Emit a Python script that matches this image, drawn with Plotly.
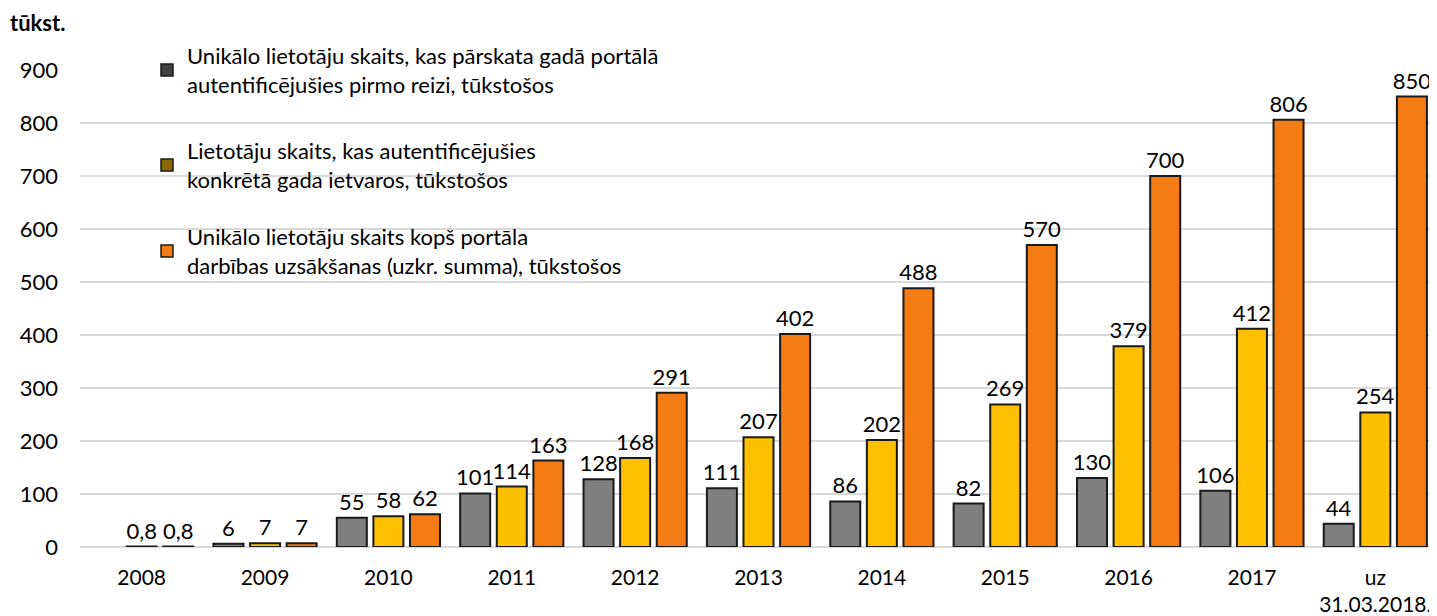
import plotly.graph_objects as go

categories = ["2008", "2009", "2010", "2011", "2012", "2013", "2014", "2015", "2016", "2017", "uz<br>31.03.2018."]
first_time = [None, 6, 55, 101, 128, 111, 86, 82, 130, 106, 44]
in_year = [0.8, 7, 58, 114, 168, 207, 202, 269, 379, 412, 254]
cumulative = [0.8, 7, 62, 163, 291, 402, 488, 570, 700, 806, 850]
y_ticks = [0, 100, 200, 300, 400, 500, 600, 700, 800, 900]

names = [
    "Unikālo lietotāju skaits, kas pārskata gadā portālā<br>autentificējušies pirmo reizi, tūkstošos",
    "Lietotāju skaits, kas autentificējušies<br>konkrētā gada ietvaros, tūkstošos",
    "Unikālo lietotāju skaits kopš portāla<br>darbības uzsākšanas (uzkr. summa), tūkstošos",
]
colors = ["#7f7f7f", "#ffc000", "#f57c14"]
legend_colors = ["#404040", "#8a6a00", "#f57c14"]


def fmt(v):
    if v is None:
        return ""
    s = f"{v:g}"
    return s.replace(".", ",")


FONT = "Lato"
FS = 22
OFF = 8  # page body margin offset
W, H = 1437 - OFF, 616 - OFF
ML, MR, MT, MB = 80 - OFF, 0, 70 - OFF, H - (547 - OFF)
PW, PH = W - ML - MR, H - MT - MB


def px(xp):  # picture x -> paper
    return (xp - OFF - ML) / PW


def py(yp):  # picture y -> paper
    return (H - MB - (yp - OFF)) / PH


fig = go.Figure()
series = [first_time, in_year, cumulative]
legends = ["legend", "legend2", "legend3"]
for i, (vals, name, col, lc, lg) in enumerate(zip(series, names, colors, legend_colors, legends)):
    fig.add_trace(go.Bar(
        x=categories, y=vals, name=name, showlegend=False, offsetgroup=str(i),
        marker=dict(color=col, line=dict(color="#1a1a1a", width=2)),
        text=[fmt(v) for v in vals], textposition="outside", constraintext="none",
        textfont=dict(family=FONT, size=FS, color="#000000"),
        cliponaxis=False,
    ))
    # legend-only entry (shares the same offset group, draws nothing)
    fig.add_trace(go.Bar(
        x=[categories[0]], y=[None], name=name, legend=lg, offsetgroup=str(i),
        marker=dict(color=lc, line=dict(color="#1a1a1a", width=1.5)),
        showlegend=True, hoverinfo="skip",
    ))

leg_common = dict(font=dict(family=FONT, size=FS, color="#000000"),
                  bgcolor="rgba(0,0,0,0)", xref="paper", yref="paper",
                  xanchor="left", yanchor="top", itemwidth=30)
fig.update_layout(
    width=W, height=H,
    margin=dict(l=ML, r=MR, t=MT, b=MB, autoexpand=False),
    paper_bgcolor="white", plot_bgcolor="white",
    barmode="group", bargap=0.11, bargroupgap=0.18,
    font=dict(family=FONT, size=FS, color="#000000"),
    legend=dict(x=px(147), y=py(35), **leg_common),
    legend2=dict(x=px(147), y=py(130), **leg_common),
    legend3=dict(x=px(147), y=py(216), **leg_common),
    xaxis=dict(type="category", showgrid=False, showline=False, ticks="", tickangle=0,
               ticklabelstandoff=16, tickfont=dict(family=FONT, size=21, color="#000000")),
    yaxis=dict(range=[0, 900], tickvals=y_ticks, showgrid=True, gridcolor="#d9d9d9",
               gridwidth=2, zeroline=True, zerolinecolor="#d9d9d9", zerolinewidth=2,
               ticklabelstandoff=21, tickfont=dict(family=FONT, size=FS, color="#000000")),
    annotations=[dict(text="<b>tūkst.</b>", xref="paper", yref="paper",
                      x=px(9), y=py(22), xanchor="left", yanchor="middle", borderpad=0,
                      showarrow=False, font=dict(family=FONT, size=FS, color="#000000"))],
)
fig.write_html("out.html")
